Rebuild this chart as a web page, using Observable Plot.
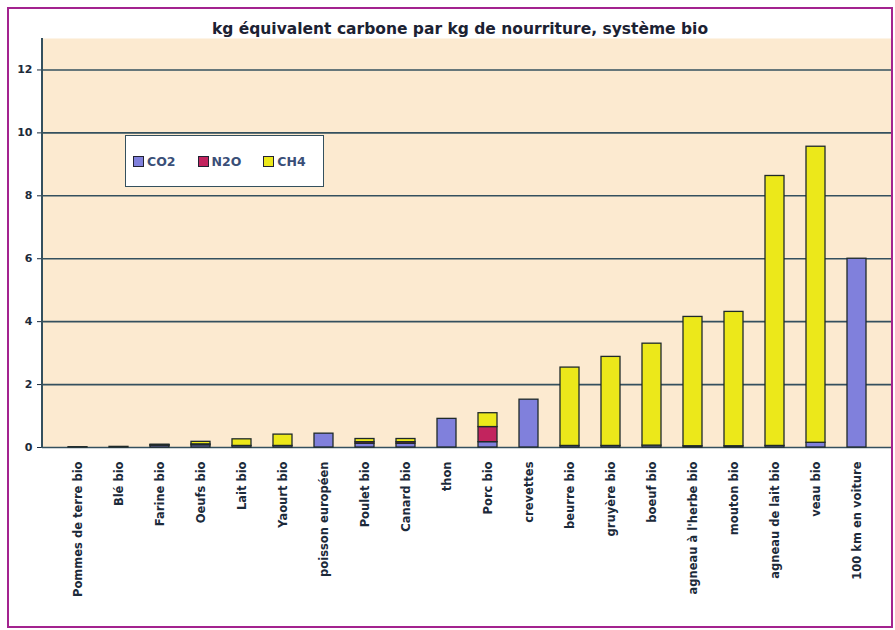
<!DOCTYPE html>
<html><head><meta charset="utf-8">
<script src="https://cdn.jsdelivr.net/npm/d3@7"></script>
<script src="https://cdn.jsdelivr.net/npm/@observablehq/plot@0.6"></script>
<style>
body{margin:0;background:#fff;font-family:"DejaVu Sans",sans-serif;}
#wrap{position:relative;width:895px;height:630px;overflow:hidden;}
#border{position:absolute;left:7px;top:7px;width:882px;height:617px;border:2px solid #a3238f;}
#title{position:absolute;left:0;width:920px;top:20px;text-align:center;font:bold 15.5px "DejaVu Sans",sans-serif;color:#1c2233;}
#chart{position:absolute;left:0;top:0;}
#yline{position:absolute;left:41px;top:38px;width:2px;height:410px;background:#34505e;}
#legend{position:absolute;left:125px;top:135px;width:199px;height:52px;background:#fff;border:1.5px solid #34505e;box-sizing:border-box;display:flex;align-items:center;padding-left:7px;gap:22px;font:bold 12.5px "DejaVu Sans",sans-serif;color:#3a4f78;}
#legend span.sw{display:inline-block;width:9px;height:9px;border:1px solid #223;margin-right:3px;vertical-align:-1px;}
</style></head>
<body>
<div id="wrap">
<div id="chart"></div>
<div id="yline"></div>
<div id="border"></div>
<div id="title">kg équivalent carbone par kg de nourriture, système bio</div>
<div id="legend"></div>
</div>
<script>
const categories = ["Pommes de terre bio","Blé bio","Farine bio","Oeufs bio","Lait bio","Yaourt bio","poisson européen","Poulet bio","Canard bio","thon","Porc bio","crevettes","beurre bio","gruyère bio","boeuf bio","agneau à l'herbe bio","mouton bio","agneau de lait bio","veau bio","100 km en voiture"];
const co2 = [0.01,0.02,0.06,0.07,0.05,0.05,0.44,0.12,0.12,0.91,0.17,1.52,0.05,0.05,0.06,0.04,0.04,0.05,0.15,6.0];
const n2o = [0,0,0.01,0.03,0,0,0,0.05,0.05,0,0.48,0,0,0,0,0,0,0,0,0];
const ch4 = [0,0,0.02,0.08,0.21,0.36,0,0.1,0.1,0,0.44,0,2.49,2.83,3.24,4.11,4.27,8.58,9.41,0];
const gases = ["CO2","N2O","CH4"];
const gasColors = ["#8080dc","#c2245e","#ece81a"];
const yTicks = [0,2,4,6,8,10,12];

const rows = [];
categories.forEach((c,i)=>{
  rows.push({cat:c, gas:"CO2", v:co2[i]});
  rows.push({cat:c, gas:"N2O", v:n2o[i]});
  rows.push({cat:c, gas:"CH4", v:ch4[i]});
});

const chart = Plot.plot({
  width: 895, height: 630,
  marginTop: 38, marginBottom: 183, marginLeft: 42, marginRight: 3,
  style: {background: "transparent", fontFamily: "DejaVu Sans, sans-serif", color: "#1c2a3a"},
  x: {domain: categories, padding: 0.54, label: null},
  y: {domain: [0, 13], label: null},
  color: {domain: gases, range: gasColors},
  marks: [
    Plot.frame({fill: "#fcead0", stroke: null}),
    Plot.ruleY(yTicks, {stroke: "#34505e", strokeWidth: 1.6}),
    Plot.barY(rows, {x: "cat", y: "v", fill: "gas", order: gases, stroke: "#1f2a2a", strokeWidth: 1.3}),
    Plot.axisY({ticks: yTicks, tickSize: 5, tickPadding: 5, fontWeight: "bold", fontSize: 11, label: null}),
    Plot.axisX({tickRotate: -90, tickSize: 0, tickPadding: 14, fontWeight: "bold", fontSize: 11.5, label: null})
  ]
});
document.getElementById("chart").appendChild(chart);

const lg = document.getElementById("legend");
gases.forEach((g,i)=>{
  const d = document.createElement("div");
  d.innerHTML = `<span class="sw" style="background:${gasColors[i]}"></span>${g}`;
  lg.appendChild(d);
});
</script>
</body></html>
